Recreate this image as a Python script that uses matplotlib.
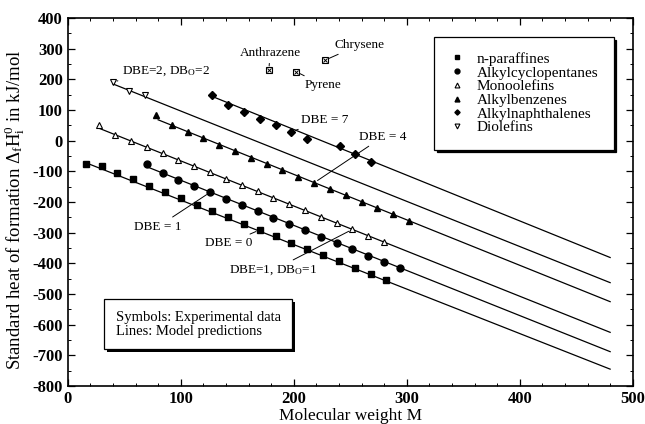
import numpy as np
import matplotlib
matplotlib.use('Agg')
import matplotlib.pyplot as plt
import matplotlib.patheffects as pe
from matplotlib.ticker import MultipleLocator

plt.rcParams['font.family'] = ['Liberation Serif', 'DejaVu Serif']
plt.rcParams['mathtext.fontset'] = 'custom'
plt.rcParams['mathtext.rm'] = 'Liberation Serif'
plt.rcParams['mathtext.it'] = 'Liberation Serif:italic'
plt.rcParams['axes.unicode_minus'] = False

# experimental data: molecular weight M and heat of formation (kJ/mol)
paraffin_m = [16, 30, 44, 58, 72, 86, 100, 114, 128, 142, 156, 170, 184, 198, 212, 226, 240, 254, 268, 282]
paraffin_h = [-74.9, -84.0, -104.7, -125.6, -146.8, -167.2, -187.8, -208.4, -228.7, -249.5,
              -270.3, -290.9, -311.5, -332.1, -352.8, -373.4, -393.9, -414.6, -435.1, -455.8]

cyclopent_m = [70, 84, 98, 112, 126, 140, 154, 168, 182, 196, 210, 224, 238, 252, 266, 280, 294]
cyclopent_h = [-77.0, -106.2, -127.1, -147.7, -168.5, -189.1, -209.7, -230.4, -251.1, -271.7,
               -292.3, -313.0, -333.6, -354.3, -374.9, -395.5, -416.2]

olefin_m = [28, 42, 56, 70, 84, 98, 112, 126, 140, 154, 168, 182, 196, 210, 224, 238, 252, 266, 280]
olefin_h = [52.5, 20.0, -0.1, -21.3, -41.7, -62.3, -82.9, -103.5, -124.2, -144.9,
            -165.4, -186.1, -206.7, -227.3, -247.9, -268.6, -289.2, -309.8, -330.5]

benzene_m = [78, 92, 106, 120, 134, 148, 162, 176, 190, 204, 218, 232, 246, 260, 274, 288, 302]
benzene_h = [82.9, 50.0, 29.8, 7.9, -13.8, -34.4, -55.0, -75.7, -96.3, -116.9,
             -137.5, -158.2, -178.8, -199.4, -220.0, -240.7, -261.3]

naphth_m = [128, 142, 156, 170, 184, 198, 212, 241, 254, 268]
naphth_h = [150, 116, 92, 71, 51, 29, 5, -17, -43, -68]

diolefin_m = [40, 54, 68]
diolefin_h = [192, 163, 149]

pah_names = ['Anthrazene', 'Pyrene', 'Chrysene']
pah_m = [178, 202, 228]
pah_h = [230, 225, 263]

# model prediction lines (start and end points)
line_x0 = [16, 70, 28, 80, 130, 40]
line_y0 = [-72, -85, 40, 68, 141, 185]
line_x1 = [480, 480, 480, 480, 480, 480]
line_y1 = [-745, -688, -625, -525, -381, -463]

fig = plt.figure(figsize=(6.45, 4.24), dpi=100)
ax = fig.add_axes([0.105, 0.0896, 0.876, 0.868])

for x0, y0, x1, y1 in zip(line_x0, line_y0, line_x1, line_y1):
    ax.plot([x0, x1], [y0, y1], color='k', lw=0.9, zorder=2)

ms = 5.0
h1, = ax.plot(paraffin_m, paraffin_h, 's', color='k', ms=ms, zorder=3, label='n-paraffines')
h2, = ax.plot(cyclopent_m, cyclopent_h, 'o', color='k', ms=ms, zorder=3, label='Alkylcyclopentanes')
h3, = ax.plot(olefin_m, olefin_h, '^', mfc='white', mec='k', mew=0.8, ms=ms, zorder=3, label='Monoolefins')
h4, = ax.plot(benzene_m, benzene_h, '^', color='k', ms=ms, zorder=3, label='Alkylbenzenes')
h5, = ax.plot(naphth_m, naphth_h, 'D', color='k', ms=3.8, zorder=3, label='Alkylnaphthalenes')
h6, = ax.plot(diolefin_m, diolefin_h, 'v', mfc='white', mec='k', mew=0.8, ms=ms, zorder=3, label='Diolefins')

ax.plot(pah_m, pah_h, 's', mfc='white', mec='k', mew=0.8, ms=4.5, zorder=3)
ax.plot(pah_m, pah_h, 'x', color='k', mew=0.7, ms=3.5, zorder=4)

ann_kw = dict(fontsize=9.5, ha='center', va='center',
              arrowprops=dict(arrowstyle='-', color='k', lw=0.7, shrinkA=1, shrinkB=3))
ax.annotate(pah_names[0], xy=(pah_m[0], pah_h[0]), xytext=(179, 285), **ann_kw)
ax.annotate(pah_names[1], xy=(pah_m[1], pah_h[1]), xytext=(226, 181), **ann_kw)
ax.annotate(pah_names[2], xy=(pah_m[2], pah_h[2]), xytext=(258, 312), **ann_kw)
ax.annotate('DBE=2, DB$_\\mathrm{O}$=2', xy=(diolefin_m[0], diolefin_h[0]), xytext=(87, 225), **ann_kw)
ax.annotate('DBE = 7', xy=(198, 29), xytext=(227, 67), **ann_kw)
ax.annotate('DBE = 4', xy=(218, -137.5), xytext=(279, 13), **ann_kw)
ax.annotate('DBE = 1', xy=(126, -168.5), xytext=(80, -280), **ann_kw)
ax.annotate('DBE = 0', xy=(170, -290.9), xytext=(142, -335), **ann_kw)
ax.annotate('DBE=1, DB$_\\mathrm{O}$=1', xy=(252, -289.2), xytext=(182, -422), **ann_kw)

leg = ax.legend(handles=[h1, h2, h3, h4, h5, h6], loc='upper right',
                bbox_to_anchor=(0.966, 0.949), borderaxespad=0, fontsize=11,
                markerscale=0.7, handlelength=1.0, handletextpad=0.8,
                labelspacing=0.0, borderpad=1.0, fancybox=False,
                shadow={'color': 'k', 'alpha': 1.0})
leg.get_frame().set_edgecolor('k')
leg.get_frame().set_linewidth(0.9)

t = ax.text(0.085, 0.168, 'Symbols: Experimental data\nLines: Model predictions',
            transform=ax.transAxes, fontsize=10.5, va='center', ha='left', linespacing=1.1,
            bbox=dict(boxstyle='square,pad=0.8', fc='white', ec='k', lw=0.9))
t.get_bbox_patch().set_path_effects([pe.SimplePatchShadow(offset=(2, -2), shadow_rgbFace='k', alpha=1.0),
                                     pe.Normal()])

ax.set_xlim(0, 500)
ax.set_ylim(-800, 400)
ax.xaxis.set_major_locator(MultipleLocator(100))
ax.xaxis.set_minor_locator(MultipleLocator(20))
ax.yaxis.set_major_locator(MultipleLocator(100))
ax.yaxis.set_minor_locator(MultipleLocator(50))
ax.tick_params(which='both', direction='in', top=True, right=True, labelsize=12)
ax.tick_params(which='major', length=5, width=0.9)
ax.tick_params(which='minor', length=2.5, width=0.7)
for lab in ax.get_xticklabels() + ax.get_yticklabels():
    lab.set_fontweight('bold')
for s in ax.spines.values():
    s.set_linewidth(1.2)

ax.set_xlabel('Molecular weight M', fontsize=12.5, labelpad=1)
ax.set_ylabel('Standard heat of formation Δ$_\\mathrm{f}$H$_\\mathrm{i}^\\mathrm{0}$ in kJ/mol',
              fontsize=13.5)
ax.yaxis.set_label_coords(-0.072, 0.478)

fig.savefig('out.png', dpi=100)
